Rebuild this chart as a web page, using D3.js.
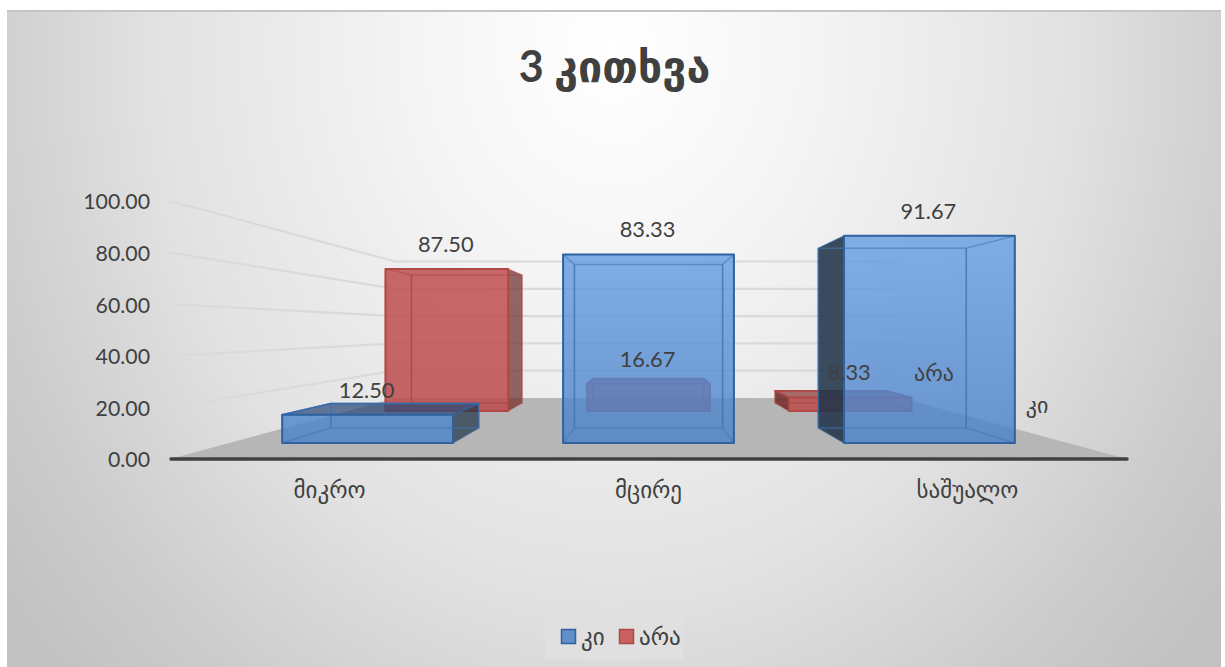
<!DOCTYPE html>
<html><head><meta charset="utf-8">
<script src="https://cdn.jsdelivr.net/npm/d3@7/dist/d3.min.js"></script>
<style>
html,body{margin:0;padding:0;background:#fff;overflow:hidden}
svg{display:block}
text{font-family:Lato,"DejaVu Sans",sans-serif;fill:#404040}
.tick text{fill:#404040}
</style></head><body>
<svg id="c" width="1225" height="667"></svg>
<script>
const titleText = "3 კითხვა";
const categories = ["მიკრო","მცირე","საშუალო"];
const seriesNames = ["კი","არა"];
const valuesYes = [12.50,83.33,91.67];
const valuesNo = [87.50,16.67,8.33];
const tickValues = [0,20,40,60,80,100];

const svg=d3.select("#c");
const defs=svg.append("defs");

const cx=648.5, vy=329.5, floorH=129.5;
const depthFront=1, depthBack=0.529;
const depthRows=[[0.876,0.76],[0.629,0.567]];
const proj=(X,h,s)=>[cx+X*s, vy+(floorH-h)*s];
const dl=-478.5, dr=478.5;
const xBand=d3.scaleBand().domain(categories).range([-481,481]).paddingInner(0.392).paddingOuter(0.196);
const yWorld=d3.scaleLinear().domain([0,100]).range([0,258]);

const bg=defs.append("radialGradient").attr("id","bg").attr("gradientUnits","userSpaceOnUse")
  .attr("cx",0).attr("cy",0).attr("r",1)
  .attr("gradientTransform","translate(612 50) scale(760 900)");
[[0,"#ffffff"],[0.25,"#f5f5f5"],[0.6,"#e2e2e2"],[0.85,"#cccccc"],[1,"#c2c2c2"]].forEach(d=>bg.append("stop").attr("offset",d[0]).attr("stop-color",d[1]));
svg.append("rect").attr("x",7).attr("y",11).attr("width",1214).attr("height",656).attr("fill","url(#bg)");
svg.append("line").attr("x1",7).attr("x2",1221).attr("y1",11).attr("y2",11).attr("stroke","#c4c4c4").attr("stroke-width",2);

const poly=pts=>pts.map(p=>p.join(",")).join(" ");
svg.append("polygon").attr("fill","#b6b6b6")
  .attr("points",poly([proj(dl,0,depthFront),proj(dr,0,depthFront),proj(dr,0,depthBack),proj(dl,0,depthBack)]));

tickValues.slice(1).forEach(t=>{
  const h=yWorld(t);
  svg.append("polyline").attr("fill","none").attr("stroke","#dadada").attr("stroke-width",2.2)
   .attr("points",poly([proj(dl,h,depthFront),proj(dl,h,depthBack),proj(dr,h,depthBack)]));
});

svg.append("line").attr("stroke","#404040").attr("stroke-width",3.5).attr("stroke-linecap","round")
  .attr("x1",proj(dl,0,1)[0]+1).attr("x2",proj(dr,0,1)[0])
  .attr("y1",proj(dl,0,1)[1]).attr("y2",proj(dl,0,1)[1]);

const yPix=d3.scaleLinear().domain([0,100]).range([proj(dl,0,1)[1]+1,proj(dl,yWorld(100),1)[1]+1]);
const yAxis=d3.axisLeft(yPix).tickValues(tickValues).tickSize(0).tickPadding(0).tickFormat(d3.format(".2f"));
svg.append("g").attr("transform","translate(150,0)").call(yAxis)
  .call(g=>g.select(".domain").remove())
  .selectAll("text").attr("font-size",21.3).attr("font-family",'Lato,"DejaVu Sans",sans-serif');
const xPix=d3.scaleBand().domain(categories).range([dl+cx,dr+cx]);
const xAxis=d3.axisBottom(xPix).tickSize(0).tickPadding(0);
svg.append("g").attr("transform","translate(0,482)").call(xAxis)
  .call(g=>g.select(".domain").remove())
  .selectAll("text").attr("font-size",23).attr("dy","0.71em").attr("font-family",'"DejaVu Sans",sans-serif');

function grad(id,a,b){
 const g=defs.append("linearGradient").attr("id",id).attr("gradientUnits","userSpaceOnUse")
  .attr("x1",0).attr("y1",235).attr("x2",0).attr("y2",443);
 g.append("stop").attr("offset",0).attr("stop-color",a);
 g.append("stop").attr("offset",1).attr("stop-color",b);
}
grad("gBlue","#649ee2","#4a81c8");
grad("gRed","#c05050","#bc4a4a");

const palette=[
 {fill:"url(#gBlue)",edge:"#2f62a0",inner:"#3f74b5",dark:"#22344a",top:"#2a4a78",alpha:0.8,innerOp:0.6},
 {fill:"url(#gRed)",edge:"#b04846",inner:"#ac4240",dark:"#6e2c2c",top:"#8a3a38",alpha:0.85,innerOp:0.5}
];

function drawBar(g,cat,val,row){
 const p=palette[row];
 const [sf,sb]=depthRows[row];
 const x0=xBand(cat), x1=x0+xBand.bandwidth(), h=yWorld(val);
 const A=(X,H,s)=>proj(X,H,s);
 const front=[A(x0,0,sf),A(x1,0,sf),A(x1,h,sf),A(x0,h,sf)];
 const back=[A(x0,0,sb),A(x1,0,sb),A(x1,h,sb),A(x0,h,sb)];
 const left=[A(x0,0,sf),A(x0,0,sb),A(x0,h,sb),A(x0,h,sf)];
 const right=[A(x1,0,sf),A(x1,0,sb),A(x1,h,sb),A(x1,h,sf)];
 const top=[A(x0,h,sf),A(x1,h,sf),A(x1,h,sb),A(x0,h,sb)];
 const face=(pts,fill,op,stroke,sw,sop)=>g.append("polygon").attr("points",poly(pts))
   .attr("fill",fill).attr("fill-opacity",op).attr("stroke",stroke||"none").attr("stroke-width",sw||0)
   .attr("stroke-opacity",sop==null?1:sop).attr("stroke-linejoin","round");
 const leftOuter=x0>0, rightOuter=x1<0;
 const fromAbove=proj(0,h,sf)[1]>vy;
 if(leftOuter) face(left,p.dark,0.88,p.edge,1.2,0.6);
 if(rightOuter) face(right,p.dark,0.72,p.edge,1.2,0.6);
 if(fromAbove) face(top,p.top,0.72,p.edge,1.5);
 face(front,p.fill,p.alpha);
 face(back,"none",0,p.inner,1.5,p.innerOp);
 if(!leftOuter) face(left,"none",0,p.inner,1.3,p.innerOp);
 if(!rightOuter) face(right,"none",0,p.inner,1.3,p.innerOp);
 face(front,"none",0,p.edge,2);
}

const barsNo=svg.append("g"), barsYes=svg.append("g");
categories.forEach((c,i)=>drawBar(barsNo,c,valuesNo[i],1));
categories.forEach((c,i)=>drawBar(barsYes,c,valuesYes[i],0));

const fmt=d3.format(".2f");
function labels(vals,row){
 const s=depthRows[row][0];
 categories.forEach((c,i)=>{
  const X=xBand(c)+xBand.bandwidth()/2;
  const [px,py]=proj(X,yWorld(vals[i]),s);
  svg.append("text").attr("x",px-1).attr("y",py-25).attr("dy","0.36em").attr("text-anchor","middle")
   .attr("font-size",21.8).text(fmt(vals[i]));
 });
}
labels(valuesNo,1);
labels(valuesYes,0);

const depthLabel=[[1037,405],[934,373]];
seriesNames.forEach((n,i)=>svg.append("text").attr("x",depthLabel[i][0]).attr("y",depthLabel[i][1])
  .attr("dy","0.36em").attr("text-anchor","middle").attr("font-size",22).attr("font-family",'"DejaVu Sans",sans-serif').text(n));

svg.append("text").attr("x",614.5).attr("y",82).attr("text-anchor","middle")
  .attr("font-size",43).attr("font-weight",700).attr("font-family",'"DejaVu Sans",sans-serif').attr("fill","#404040").text(titleText);

svg.append("rect").attr("x",545).attr("y",613).attr("width",138).attr("height",46).attr("fill","#e0e0e0");
const legX=[561,619], legT=[581,639];
seriesNames.forEach((n,i)=>{
 svg.append("rect").attr("x",legX[i]+0.5).attr("y",629.5).attr("width",14).attr("height",14)
  .attr("fill",i?"#c8615f":"#5f8ec8").attr("stroke",palette[i].edge).attr("stroke-width",1.5);
 svg.append("text").attr("x",legT[i]).attr("y",645).attr("font-size",23)
  .attr("font-family",'"DejaVu Sans",sans-serif').text(n);
});
</script>
</body></html>
